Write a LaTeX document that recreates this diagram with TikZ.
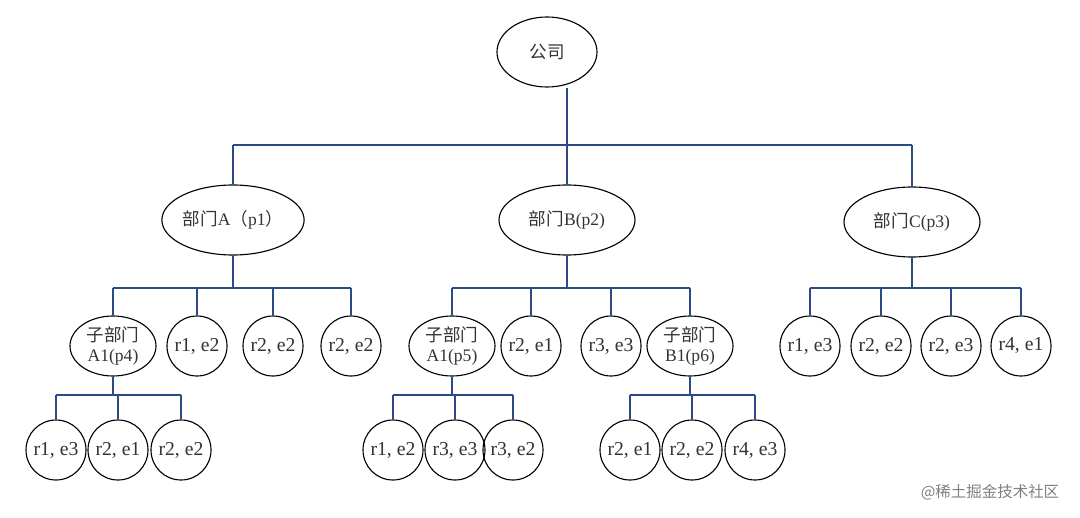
\documentclass[tikz,border=0pt]{standalone}
\usepackage{fontspec}
\setmainfont{Liberation Serif}
\newfontfamily\cjk{Noto Sans CJK SC}
\usetikzlibrary{positioning, shapes.geometric, calc}
\definecolor{linkblue}{HTML}{2E4A86}
\definecolor{inkgray}{HTML}{333333}

\begin{document}
\begin{tikzpicture}[x=0.025cm, y=-0.025cm,
    unit/.style={draw, ellipse, thick, inner sep=0pt, text=inkgray, font=\fontsize{12.5}{14}\selectfont},
    leaf/.style={draw, circle, thick, minimum size=60*0.025cm, inner sep=0pt, text=inkgray, font=\fontsize{14}{15}\selectfont},
    link/.style={linkblue, thick}]
    \useasboundingbox (0,0) rectangle (1080,518);
    % Company
    \node[unit, minimum width=100*0.025cm, minimum height=70*0.025cm] (top) at (547,52) {\cjk 公司};
    % Departments
    \node[unit, minimum width=136*0.025cm, minimum height=70*0.025cm] (depA) at (233,220) {{\cjk 部门}A{\cjk（}p1{\cjk）}};
    \node[unit, minimum width=136*0.025cm, minimum height=70*0.025cm] (depB) at (567,220) {{\cjk 部门}B(p2)};
    \node[unit, minimum width=136*0.025cm, minimum height=70*0.025cm] (depC) at (912,222) {{\cjk 部门}C(p3)};
    \coordinate (busTop) at (0,145);
    \draw[link] ([xshift=20*0.025cm]top.south) -- ([xshift=20*0.025cm]top.south |- busTop);
    \draw[link] (depA.north |- busTop) -- (depC.north |- busTop);
    \foreach \d in {depA, depB, depC}
        \draw[link] (\d.north) -- (\d.north |- busTop);

    % Sub-departments and staff
    \node[unit, minimum width=86*0.025cm, minimum height=60*0.025cm, align=center] (subA) at (113,346) {\cjk 子部门\\A1(p4)};
    \node[leaf] (a2) at (197,346) {r1, e2};
    \node[leaf] (a3) at (273,346) {r2, e2};
    \node[leaf] (a4) at (351,346) {r2, e2};
    \node[unit, minimum width=86*0.025cm, minimum height=60*0.025cm, align=center] (subB) at (452,346) {\cjk 子部门\\A1(p5)};
    \node[leaf] (b2) at (531,346) {r2, e1};
    \node[leaf] (b3) at (611,346) {r3, e3};
    \node[unit, minimum width=86*0.025cm, minimum height=60*0.025cm, align=center] (subC) at (690,346) {\cjk 子部门\\B1(p6)};
    \node[leaf] (c1) at (810,346) {r1, e3};
    \node[leaf] (c2) at (881,346) {r2, e2};
    \node[leaf] (c3) at (951,346) {r2, e3};
    \node[leaf] (c4) at (1021,346) {r4, e1};
    \coordinate (busMid) at (0,288);
    \draw[link] (depA.south) -- (depA.south |- busMid);
    \draw[link] (depB.south) -- (depB.south |- busMid);
    \draw[link] (depC.south) -- (depC.south |- busMid);
    \draw[link] (subA.north |- busMid) -- (a4.north |- busMid);
    \draw[link] (subB.north |- busMid) -- (subC.north |- busMid);
    \draw[link] (c1.north |- busMid) -- (c4.north |- busMid);
    \foreach \n in {subA, a2, a3, a4, subB, b2, b3, subC, c1, c2, c3, c4}
        \draw[link] (\n.north) -- (\n.north |- busMid);

    % Bottom staff
    \node[leaf] (aa1) at (56,450) {r1, e3};
    \node[leaf] (aa2) at (118,450) {r2, e1};
    \node[leaf] (aa3) at (181,450) {r2, e2};
    \node[leaf] (bb1) at (393,450) {r1, e2};
    \node[leaf] (bb2) at (455,450) {r3, e3};
    \node[leaf] (bb3) at (513,450) {r3, e2};
    \node[leaf] (cc1) at (630,450) {r2, e1};
    \node[leaf] (cc2) at (692,450) {r2, e2};
    \node[leaf] (cc3) at (755,450) {r4, e3};
    \coordinate (busLow) at (0,395);
    \foreach \p/\l/\r in {subA/aa1/aa3, subB/bb1/bb3, subC/cc1/cc3} {
        \draw[link] (\p.south) -- (\p.south |- busLow);
        \draw[link] (\l.north |- busLow) -- (\r.north |- busLow);
    }
    \foreach \n in {aa1, aa2, aa3, bb1, bb2, bb3, cc1, cc2, cc3}
        \draw[link] (\n.north) -- (\n.north |- busLow);

    \node[gray, font=\cjk\fontsize{11}{12}\selectfont] (mark) at (990,492) {@稀土掘金技术社区};
\end{tikzpicture}
\end{document}
